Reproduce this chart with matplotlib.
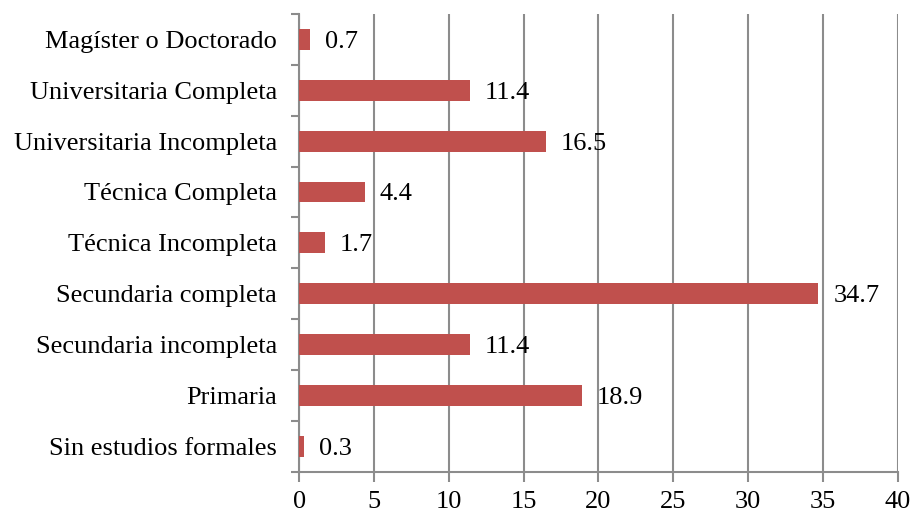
import matplotlib.pyplot as plt

plt.rcParams['font.family'] = ['Liberation Serif', 'DejaVu Serif']

niveles = [
    "Sin estudios formales",
    "Primaria",
    "Secundaria incompleta",
    "Secundaria completa",
    "Técnica Incompleta",
    "Técnica Completa",
    "Universitaria Incompleta",
    "Universitaria Completa",
    "Magíster o Doctorado",
]
porcentajes = [0.3, 18.9, 11.4, 34.7, 1.7, 4.4, 16.5, 11.4, 0.7]

gris = '#8c8c8c'
rojo = '#c0504d'

fig = plt.figure(figsize=(9.15, 5.15), dpi=100)
ax = fig.add_axes([0.327, 0.084, 0.654, 0.889])

pos = list(range(len(niveles)))
ax.barh(pos, porcentajes, height=0.41, color=rojo, zorder=3)

for p, v in zip(pos, porcentajes):
    ax.text(v + 1.0, p - 0.05, f"{v:.1f}", va='center', ha='left', fontsize=19, zorder=4)

ax.set_xlim(0, 40)
ax.set_ylim(-0.5, len(niveles) - 0.5)
ax.set_xticks(range(0, 41, 5))
ax.tick_params(axis='x', labelsize=19, length=7, width=1.5, color=gris, direction='out', pad=7)

# etiquetas centradas en cada barra, marcas en los limites entre categorias
ax.set_yticks(pos)
ax.set_yticklabels(niveles, fontsize=19)
ax.tick_params(axis='y', length=0, pad=16)
ax.set_yticks([p - 0.5 for p in pos] + [len(niveles) - 0.5], minor=True)
ax.tick_params(axis='y', which='minor', length=6, width=1.5, color=gris)

ax.grid(axis='x', color=gris, linewidth=1.5, zorder=0)
for s in ['top', 'right']:
    ax.spines[s].set_visible(False)
for s in ['left', 'bottom']:
    ax.spines[s].set_color(gris)
    ax.spines[s].set_linewidth(1.5)

fig.savefig('out.png', dpi=100)
